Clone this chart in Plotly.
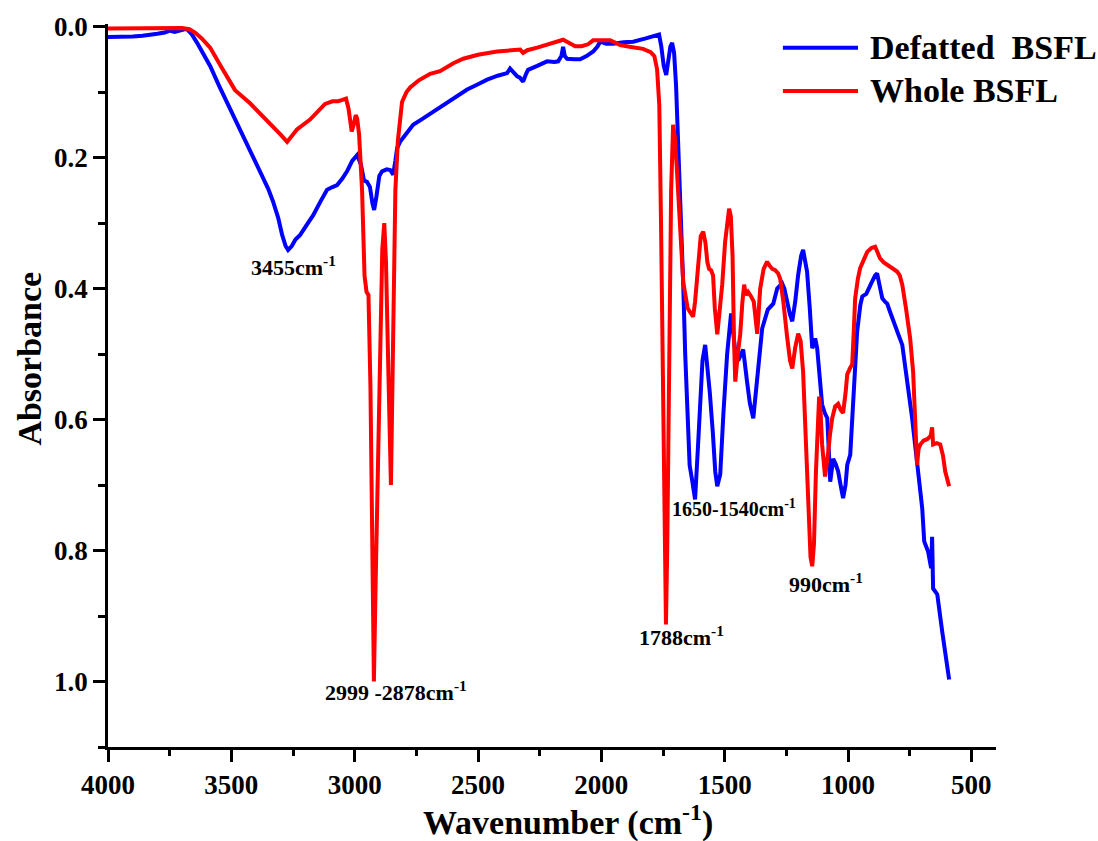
import plotly.graph_objects as go

# FTIR absorbance spectra of black soldier fly larvae (BSFL) meal
whole_wn = [4000, 3850, 3700, 3670, 3647, 3620, 3586, 3540, 3485, 3424, 3343, 3300, 3274, 3255, 3234,
            3181, 3150, 3120, 3090, 3067, 3050, 3035, 3025, 3012, 3004, 2996, 2990, 2982, 2970, 2960,
            2952, 2944, 2936, 2928, 2922, 2915, 2900, 2888, 2880, 2873, 2862, 2853, 2845, 2835, 2825,
            2808, 2790, 2775, 2740, 2694, 2654, 2600, 2560, 2500, 2423, 2360, 2329, 2317, 2300, 2260,
            2220, 2180, 2155, 2130, 2106, 2080, 2054, 2033, 2000, 1964, 1940, 1924, 1880, 1831, 1800,
            1785, 1774, 1765, 1758, 1750, 1743, 1738, 1733, 1725, 1717, 1709, 1702, 1695, 1687, 1676,
            1668, 1650, 1636, 1628, 1620, 1608, 1597, 1587, 1578, 1570, 1563, 1555, 1547, 1540, 1530,
            1522, 1510, 1498, 1490, 1482, 1475, 1468, 1462, 1457, 1447, 1437, 1428, 1421, 1414, 1405,
            1393, 1382, 1368, 1360, 1356, 1342, 1328, 1318, 1307, 1295, 1283, 1275, 1262, 1248, 1235,
            1226, 1214, 1202, 1192, 1182, 1172, 1162, 1152, 1145, 1138, 1130, 1125, 1117, 1111, 1105,
            1093, 1086, 1080, 1072, 1064, 1052, 1040, 1030, 1020, 1010, 1003, 990, 983, 976, 971,
            960, 951, 935, 922, 905, 890, 880, 870, 855, 841, 820, 801, 790, 780, 765,
            748, 736, 728, 720, 714, 707, 693, 679, 665, 659, 655, 640, 626, 615, 606, 590]
whole_abs = [0.003, 0.002, 0.002, 0.004, 0.009, 0.018, 0.032, 0.062, 0.097, 0.117, 0.147, 0.165, 0.176, 0.168, 0.157,
             0.142, 0.130, 0.118, 0.114, 0.114, 0.112, 0.110, 0.125, 0.160, 0.150, 0.135, 0.140, 0.165, 0.250, 0.380,
             0.405, 0.410, 0.550, 0.850, 1.000, 0.850, 0.550, 0.340, 0.300, 0.360, 0.550, 0.700, 0.500, 0.250, 0.175,
             0.115, 0.100, 0.093, 0.082, 0.072, 0.068, 0.056, 0.049, 0.043, 0.038, 0.036, 0.035, 0.040, 0.036, 0.032,
             0.028, 0.024, 0.020, 0.025, 0.030, 0.030, 0.027, 0.021, 0.021, 0.021, 0.025, 0.028, 0.031, 0.034, 0.039,
             0.045, 0.065, 0.120, 0.300, 0.600, 0.850, 0.913, 0.800, 0.500, 0.250, 0.150, 0.170, 0.210, 0.270, 0.350,
             0.390, 0.430, 0.440, 0.443, 0.420, 0.360, 0.320, 0.313, 0.330, 0.360, 0.370, 0.372, 0.380, 0.430, 0.470,
             0.440, 0.394, 0.328, 0.300, 0.278, 0.290, 0.350, 0.480, 0.542, 0.500, 0.470, 0.420, 0.394, 0.410, 0.405,
             0.412, 0.420, 0.469, 0.420, 0.400, 0.370, 0.359, 0.365, 0.370, 0.372, 0.377, 0.385, 0.420, 0.470, 0.510,
             0.522, 0.490, 0.469, 0.480, 0.527, 0.620, 0.740, 0.810, 0.824, 0.790, 0.680, 0.620, 0.565, 0.590, 0.638,
             0.687, 0.670, 0.649, 0.620, 0.598, 0.580, 0.576, 0.585, 0.590, 0.560, 0.531, 0.520, 0.516, 0.460, 0.415,
             0.385, 0.369, 0.355, 0.344, 0.338, 0.336, 0.345, 0.354, 0.360, 0.364, 0.370, 0.374, 0.380, 0.394, 0.430,
             0.476, 0.527, 0.600, 0.669, 0.645, 0.638, 0.632, 0.630, 0.625, 0.612, 0.638, 0.636, 0.638, 0.655, 0.679, 0.702]

defatted_wn = [4000, 3950, 3900, 3860, 3830, 3800, 3770, 3750, 3730, 3708, 3690, 3680, 3660, 3640, 3627,
               3610, 3586, 3550, 3518, 3485, 3453, 3420, 3384, 3350, 3331, 3310, 3294, 3280, 3270, 3255,
               3240, 3221, 3195, 3168, 3140, 3112, 3090, 3071, 3050, 3031, 3010, 2990, 2975, 2962, 2950,
               2938, 2928, 2921, 2912, 2900, 2889, 2870, 2856, 2844, 2835, 2828, 2816, 2790, 2763, 2730,
               2694, 2660, 2625, 2585, 2544, 2500, 2463, 2420, 2382, 2370, 2355, 2341, 2330, 2317, 2305,
               2297, 2260, 2220, 2190, 2175, 2162, 2155, 2148, 2139, 2110, 2086, 2060, 2033, 2015, 2005,
               1980, 1952, 1910, 1871, 1820, 1790, 1766, 1757, 1747, 1737, 1728, 1720, 1713, 1705, 1697,
               1689, 1680, 1668, 1660, 1650, 1642, 1633, 1620, 1608, 1598, 1590, 1579, 1570, 1560, 1548,
               1538, 1530, 1518, 1505, 1490, 1474, 1465, 1457, 1445, 1432, 1425, 1410, 1398, 1384, 1372,
               1360, 1348, 1325, 1303, 1287, 1267, 1258, 1247, 1235, 1226, 1214, 1202, 1190, 1182, 1174,
               1166, 1155, 1145, 1138, 1133, 1125, 1115, 1105, 1094, 1084, 1072, 1066, 1060, 1050, 1040,
               1030, 1020, 1010, 1003, 991, 979, 970, 963, 950, 942, 926, 912, 902, 890, 882,
               872, 861, 850, 841, 830, 817, 796, 780, 770, 760, 740, 720, 699, 691, 675,
               663, 659, 655, 638, 618, 598, 590]
defatted_abs = [0.016, 0.016, 0.015, 0.014, 0.013, 0.011, 0.009, 0.006, 0.008, 0.005, 0.004, 0.004, 0.012, 0.024, 0.033,
                0.045, 0.060, 0.090, 0.115, 0.140, 0.165, 0.193, 0.221, 0.248, 0.267, 0.292, 0.318, 0.335, 0.341, 0.335,
                0.325, 0.318, 0.303, 0.288, 0.268, 0.249, 0.245, 0.242, 0.232, 0.221, 0.205, 0.196, 0.210, 0.235, 0.237,
                0.245, 0.270, 0.280, 0.260, 0.228, 0.221, 0.218, 0.219, 0.226, 0.205, 0.186, 0.176, 0.162, 0.150, 0.142,
                0.133, 0.124, 0.115, 0.106, 0.096, 0.088, 0.081, 0.075, 0.071, 0.064, 0.070, 0.076, 0.078, 0.084, 0.072,
                0.066, 0.060, 0.053, 0.054, 0.053, 0.045, 0.031, 0.045, 0.049, 0.050, 0.050, 0.045, 0.038, 0.030, 0.023,
                0.026, 0.026, 0.024, 0.023, 0.018, 0.015, 0.012, 0.030, 0.060, 0.074, 0.055, 0.030, 0.025, 0.040, 0.090,
                0.165, 0.270, 0.394, 0.500, 0.620, 0.670, 0.690, 0.722, 0.640, 0.560, 0.510, 0.486, 0.520, 0.560, 0.620,
                0.680, 0.702, 0.684, 0.590, 0.500, 0.438, 0.470, 0.496, 0.510, 0.500, 0.493, 0.540, 0.575, 0.598, 0.550,
                0.500, 0.461, 0.432, 0.423, 0.400, 0.392, 0.400, 0.420, 0.440, 0.450, 0.420, 0.379, 0.350, 0.341, 0.355,
                0.374, 0.430, 0.491, 0.485, 0.476, 0.491, 0.540, 0.577, 0.590, 0.598, 0.695, 0.675, 0.660, 0.668, 0.679,
                0.700, 0.720, 0.700, 0.669, 0.654, 0.577, 0.520, 0.466, 0.425, 0.412, 0.408, 0.395, 0.389, 0.380, 0.377,
                0.395, 0.415, 0.420, 0.423, 0.435, 0.447, 0.470, 0.486, 0.510, 0.542, 0.598, 0.660, 0.736, 0.786, 0.802,
                0.827, 0.779, 0.858, 0.867, 0.924, 0.974, 0.997]

series_names = ["Defatted\u00a0 BSFL", "Whole BSFL"]
series_colors = ["#0000FF", "#FF0000"]

# peak assignments: (label, left edge wavenumber, absorbance at text middle, font size)
peak_labels = ["3455cm<sup>-1</sup>", "2999 -2878cm<sup>-1</sup>", "1788cm<sup>-1</sup>",
               "1650-1540cm<sup>-1</sup>", "990cm<sup>-1</sup>"]
peak_label_wn = [3428, 3128, 1855, 1721, 1247]
peak_label_abs = [0.366, 1.015, 0.930, 0.735, 0.850]
peak_label_size = [22, 22, 22, 20, 22]

FONT = "Liberation Serif"

fig = go.Figure()
fig.add_trace(go.Scatter(x=defatted_wn, y=defatted_abs, mode="lines", name=series_names[0],
                         line=dict(color=series_colors[0], width=4), showlegend=False))
fig.add_trace(go.Scatter(x=whole_wn, y=whole_abs, mode="lines", name=series_names[1],
                         line=dict(color=series_colors[1], width=4), showlegend=False))

axis_common = dict(
    showline=True, linecolor="black", linewidth=2.5, mirror=False,
    ticks="outside", ticklen=12, tickwidth=2.5, tickcolor="black",
    showgrid=False, zeroline=False,
    tickfont=dict(family=FONT, size=27, color="black", weight="bold"),
)

fig.update_xaxes(range=[4000, 400], dtick=500, tick0=500,
                 minor=dict(dtick=250, ticks="outside", ticklen=6, tickwidth=2.5, tickcolor="black"),
                 **axis_common)
fig.update_yaxes(range=[1.1, -0.004], dtick=0.2, tick0=0, tickformat=".1f",
                 minor=dict(dtick=0.1, tick0=0, ticks="outside", ticklen=7, tickwidth=2.5, tickcolor="black"),
                 **axis_common)

annotations = []
for txt, wn, ab, sz in zip(peak_labels, peak_label_wn, peak_label_abs, peak_label_size):
    annotations.append(dict(x=wn, y=ab, xref="x", yref="y", text=txt, showarrow=False,
                            xanchor="left", yanchor="middle",
                            font=dict(family=FONT, size=sz, color="black", weight="bold")))

# axis titles
annotations.append(dict(x=0.518, y=-0.102, xref="paper", yref="paper",
                        text="Wavenumber (cm<sup>-1</sup>)", showarrow=False,
                        xanchor="center", yanchor="middle",
                        font=dict(family=FONT, size=34, color="black", weight="bold")))
annotations.append(dict(x=-0.088, y=0.537, xref="paper", yref="paper", text="Absorbance",
                        textangle=-90, showarrow=False, xanchor="center", yanchor="middle",
                        font=dict(family=FONT, size=34, color="black", weight="bold")))

# legend: sample line + label for each series
legend_y = [0.967, 0.9075]
shapes = []
for name, col, ly in zip(series_names, series_colors, legend_y):
    shapes.append(dict(type="line", xref="paper", yref="paper", x0=0.760, x1=0.8446, y0=ly, y1=ly,
                       line=dict(color=col, width=4)))
    annotations.append(dict(x=0.8559, y=ly, xref="paper", yref="paper", text=name, showarrow=False,
                            xanchor="left", yanchor="middle",
                            font=dict(family=FONT, size=34, color="black", weight="bold")))

fig.update_layout(
    width=1098, height=841,
    margin=dict(l=108, r=102, t=22, b=94),
    paper_bgcolor="white", plot_bgcolor="white",
    annotations=annotations, shapes=shapes,
    showlegend=False,
)

fig.write_html("out.html")
